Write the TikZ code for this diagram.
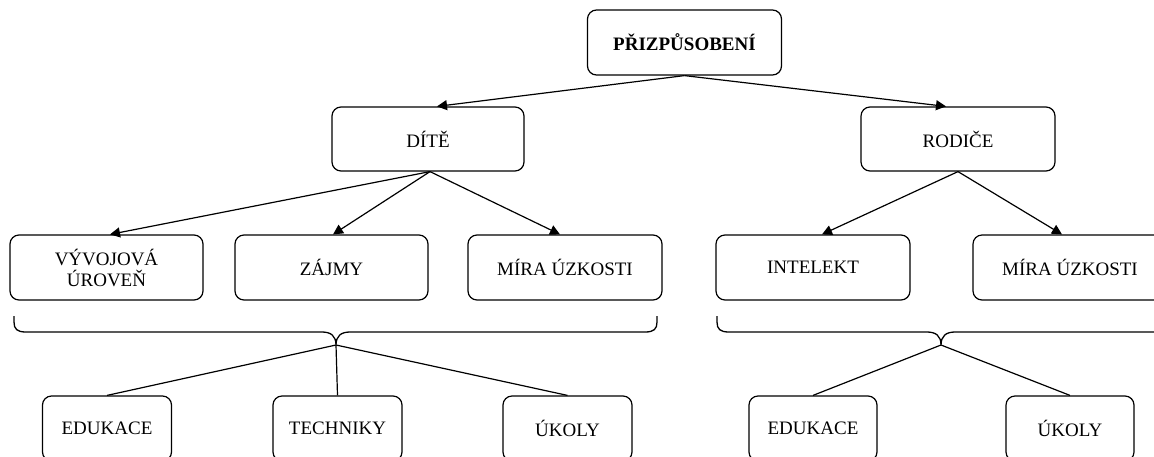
\documentclass[tikz,border=0pt]{standalone}
\usepackage{fontspec}
\setmainfont{Liberation Serif}
\usetikzlibrary{arrows.meta}

\tikzset{
  box/.style={draw, line width=1.2pt, rounded corners=9pt, inner sep=0pt,
    align=center, minimum width=194pt, minimum height=65pt,
    font=\fontsize{19}{21}\selectfont},
  smallbox/.style={box, minimum width=129pt},
  arrowline/.style={line width=1.2pt, -{Triangle[length=10pt,width=10pt]}},
  plainline/.style={line width=1.2pt},
  bracket/.style={line width=1.3pt, line join=round}
}

\begin{document}
\begin{tikzpicture}[x=1pt,y=-1pt]
  \clip (0,0) rectangle (1154,456);
  \fill[white] (0,0) rectangle (1154,456);

  % root
  \node[box, font=\fontsize{19}{21}\selectfont\bfseries] (root) at (684.5,42.5) {PŘIZPŮSOBENÍ};

  % second level
  \node[box, minimum width=192pt, minimum height=64pt] (child) at (428,139) {DÍTĚ};
  \node[box, minimum height=64pt] (parents) at (958,139) {RODIČE};

  % third level
  \node[box, minimum width=193pt] (devel) at (106.5,267.5) {VÝVOJOVÁ\\ÚROVEŇ};
  \node[box, minimum width=193pt] (interest) at (331.5,267.5) {ZÁJMY};
  \node[box] (anxchild) at (565,267.5) {MÍRA ÚZKOSTI};
  \node[box] (intellect) at (813,267.5) {INTELEKT};
  \node[box] (anxparent) at (1070,267.5) {MÍRA ÚZKOSTI};

  % bottom level
  \node[smallbox] (educ1) at (107,428.5) {EDUKACE};
  \node[smallbox] (tech) at (337.5,428.5) {TECHNIKY};
  \node[smallbox] (tasks1) at (567.5,428.5) {ÚKOLY};
  \node[smallbox, minimum width=128pt] (educ2) at (813,428.5) {EDUKACE};
  \node[smallbox, minimum width=128pt] (tasks2) at (1070,428.5) {ÚKOLY};

  % arrows
  \draw[arrowline] (root.south) -- ([xshift=9pt]child.north);
  \draw[arrowline] (root.south) -- ([xshift=-12pt]parents.north);
  \draw[arrowline] ([xshift=2pt]child.south) -- ([xshift=3.5pt]devel.north);
  \draw[arrowline] ([xshift=2pt]child.south) -- ([xshift=1.5pt]interest.north);
  \draw[arrowline] ([xshift=2pt]child.south) -- ([xshift=-5pt]anxchild.north);
  \draw[arrowline] (parents.south) -- ([xshift=9pt]intellect.north);
  \draw[arrowline] (parents.south) -- ([xshift=-8pt]anxparent.north);

  % curly brackets grouping the third level
  \coordinate (tipL) at (336,345);
  \coordinate (tipR) at (941,345);
  \draw[bracket] (14,316) -- (14,322) .. controls (14,329) and (17,332) .. (26,332)
    -- (322,332) .. controls (331,332) and (336,336) .. (tipL)
    .. controls (336,336) and (341,332) .. (350,332)
    -- (645,332) .. controls (654,332) and (657,329) .. (657,322) -- (657,316);
  \draw[bracket] (717,316) -- (717,322) .. controls (717,329) and (720,332) .. (729,332)
    -- (927,332) .. controls (936,332) and (941,336) .. (tipR)
    .. controls (941,336) and (946,332) .. (955,332)
    -- (1153,332) .. controls (1162,332) and (1165,329) .. (1165,322) -- (1165,316);

  % links from brackets to the measures
  \draw[plainline] (tipL) -- (educ1.north);
  \draw[plainline] (tipL) -- (tech.north);
  \draw[plainline] (tipL) -- (tasks1.north);
  \draw[plainline] (tipR) -- (educ2.north);
  \draw[plainline] (tipR) -- (tasks2.north);
\end{tikzpicture}
\end{document}
